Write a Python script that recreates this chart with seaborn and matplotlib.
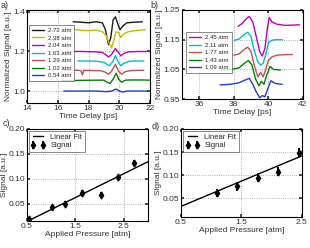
import numpy as np
import pandas as pd
import matplotlib
matplotlib.use("Agg")
import matplotlib.pyplot as plt
import seaborn as sns

# ---- panel a: time traces ----
a_labels = ["2.72 atm", "2.38 atm", "2.04 atm", "1.63 atm", "1.29 atm", "1.02 atm", "0.54 atm"]
a_colors = ["k", "#bfbf00", "#bf00bf", "#00bfbf", "r", "#008000", "#2040c0"]

a_t_272 = [17.0, 17.5, 18.0, 18.5, 18.9, 19.1, 19.3, 19.45, 19.6, 19.75, 19.9, 20.05, 20.25, 20.5, 21.0, 21.5]
a_y_272 = [1.350, 1.348, 1.345, 1.350, 1.345, 1.31, 1.235, 1.27, 1.36, 1.375, 1.34, 1.31, 1.33, 1.345, 1.348, 1.350]
a_t_238 = [16.9, 17.5, 18.0, 18.5, 18.9, 19.15, 19.35, 19.5, 19.65, 19.8, 19.95, 20.1, 20.3, 20.6, 21.0, 21.7]
a_y_238 = [1.310, 1.308, 1.305, 1.308, 1.30, 1.28, 1.24, 1.218, 1.26, 1.30, 1.295, 1.27, 1.29, 1.30, 1.305, 1.31]
a_t_204 = [16.5, 17.5, 18.5, 18.9, 19.1, 19.3, 19.5, 19.75, 19.95, 20.1, 20.3, 20.6, 21.2, 22.0]
a_y_204 = [1.200, 1.200, 1.198, 1.195, 1.185, 1.172, 1.185, 1.215, 1.195, 1.178, 1.19, 1.198, 1.20, 1.200]
a_t_163 = [17.3, 18.0, 18.6, 19.0, 19.2, 19.35, 19.55, 19.75, 19.95, 20.1, 20.3, 20.6, 21.0, 21.6]
a_y_163 = [1.152, 1.152, 1.150, 1.145, 1.135, 1.128, 1.145, 1.178, 1.145, 1.128, 1.14, 1.15, 1.152, 1.152]
a_t_129 = [16.5, 17.3, 17.5, 17.6, 17.7, 18.2, 18.8, 19.1, 19.3, 19.5, 19.75, 19.95, 20.15, 20.4, 20.8, 21.6]
a_y_129 = [1.105, 1.105, 1.103, 1.082, 1.105, 1.104, 1.103, 1.095, 1.085, 1.10, 1.135, 1.10, 1.085, 1.098, 1.104, 1.105]
a_t_102 = [16.3, 17.5, 18.5, 19.0, 19.2, 19.4, 19.6, 19.8, 19.95, 20.15, 20.4, 20.8, 21.5, 22.0]
a_y_102 = [1.052, 1.054, 1.055, 1.055, 1.045, 1.038, 1.06, 1.09, 1.06, 1.045, 1.055, 1.056, 1.056, 1.055]
a_t_054 = [16.4, 17.5, 18.5, 19.2, 19.5, 19.8, 20.0, 20.2, 20.5, 21.0, 22.0]
a_y_054 = [1.000, 1.000, 1.000, 0.997, 1.0, 1.01, 1.0, 0.995, 1.0, 1.0, 1.0]

# ---- panel b: time traces ----
b_labels = ["2.45 atm", "2.11 atm", "1.77 atm", "1.43 atm", "1.09 atm"]
b_colors = ["#bf00bf", "#00bfbf", "r", "#008000", "#2040c0"]

b_t_245 = [38.25, 38.5, 38.75, 38.9, 39.1, 39.3, 39.5, 39.65, 39.8, 39.95, 40.05, 40.2, 40.5, 41.0, 41.8]
b_y_245 = [1.195, 1.205, 1.222, 1.228, 1.21, 1.16, 1.11, 1.095, 1.12, 1.19, 1.225, 1.21, 1.202, 1.198, 1.200]
b_t_211 = [38.05, 38.3, 38.55, 38.8, 39.0, 39.2, 39.4, 39.55, 39.7, 39.85, 40.0, 40.2, 40.4, 40.8]
b_y_211 = [1.148, 1.152, 1.165, 1.175, 1.16, 1.11, 1.075, 1.065, 1.07, 1.10, 1.14, 1.148, 1.15, 1.15]
b_t_177 = [38.0, 38.3, 38.55, 38.8, 39.0, 39.2, 39.4, 39.55, 39.7, 39.85, 40.0, 40.2, 40.5, 41.0, 41.4]
b_y_177 = [1.098, 1.102, 1.115, 1.125, 1.11, 1.06, 1.025, 1.04, 1.025, 1.05, 1.08, 1.092, 1.098, 1.10, 1.10]
b_t_143 = [37.3, 37.8, 38.3, 38.6, 38.85, 39.05, 39.25, 39.45, 39.6, 39.75, 39.9, 40.1, 40.3, 40.7]
b_y_143 = [1.048, 1.05, 1.055, 1.07, 1.08, 1.065, 1.02, 0.995, 1.01, 1.0, 1.03, 1.06, 1.05, 1.048]
b_t_109 = [37.2, 37.8, 38.3, 38.6, 38.9, 39.1, 39.3, 39.5, 39.65, 39.8, 40.0, 40.15, 40.4, 40.8]
b_y_109 = [0.998, 1.0, 1.005, 1.013, 1.02, 1.0, 0.975, 0.955, 0.962, 0.958, 0.99, 1.012, 1.003, 1.0]

# ---- panels c, d: signal vs pressure ----
c_pressure = [0.54, 1.02, 1.29, 1.63, 2.04, 2.38, 2.72]
c_signal = [0.018, 0.043, 0.050, 0.072, 0.068, 0.103, 0.132]
c_err = [0.005] * 7
c_fit_x = [0.5, 3.0]
c_fit_y = [0.014, 0.134]

d_pressure = [1.09, 1.43, 1.77, 2.11, 2.45]
d_signal = [0.062, 0.076, 0.095, 0.108, 0.149]
d_err = [0.009] * 5
d_fit_x = [0.5, 2.5]
d_fit_y = [0.033, 0.142]

sns.set_theme(style="whitegrid", rc={
    "grid.linestyle": ":", "grid.color": "#999999", "grid.linewidth": 0.6,
    "axes.edgecolor": "black", "axes.linewidth": 0.8,
    "xtick.direction": "in", "ytick.direction": "in",
    "xtick.major.size": 2, "ytick.major.size": 2,
    "xtick.top": True, "ytick.right": True,
    "xtick.bottom": True, "ytick.left": True,
})
plt.rcParams["font.family"] = ["Liberation Sans", "DejaVu Sans"]

fig = plt.figure(figsize=(3.1, 2.48), dpi=100)
ax_a = fig.add_axes([0.087, 0.585, 0.397, 0.375])
ax_b = fig.add_axes([0.587, 0.60, 0.39, 0.36])
ax_c = fig.add_axes([0.087, 0.109, 0.39, 0.371])
ax_d = fig.add_axes([0.584, 0.125, 0.39, 0.355])

tick_fs = 6
lab_fs = 6
leg_fs = 4.3


def draw_traces(ax, times, values, labels, colors):
    for t, y, lab, col in zip(times, values, labels, colors):
        df = pd.DataFrame({"t": t, "y": y})
        sns.lineplot(data=df, x="t", y="y", sort=False, estimator=None,
                     color=col, lw=1.0, label=lab, ax=ax)


def trace_legend(ax, anchor):
    ax.legend(loc="upper left", bbox_to_anchor=anchor, borderaxespad=0,
              fontsize=leg_fs, frameon=True, fancybox=False, edgecolor="#555555",
              handlelength=2.1, handletextpad=0.6, labelspacing=0.4,
              borderpad=0.5).get_frame().set_linewidth(0.6)


draw_traces(ax_a,
            [a_t_272, a_t_238, a_t_204, a_t_163, a_t_129, a_t_102, a_t_054],
            [a_y_272, a_y_238, a_y_204, a_y_163, a_y_129, a_y_102, a_y_054],
            a_labels, a_colors)
ax_a.set_xlim(14, 22)
ax_a.set_ylim(0.94, 1.41)
ax_a.set_xticks([14, 16, 18, 20, 22])
ax_a.set_yticks([1.0, 1.2, 1.4])
ax_a.set_xlabel("Time Delay [ps]", fontsize=lab_fs, labelpad=0.5)
ax_a.set_ylabel("Normalized Signal [a.u.]", fontsize=lab_fs)
ax_a.yaxis.set_label_coords(-0.12, 0.5)
trace_legend(ax_a, (0.015, 0.84))

draw_traces(ax_b,
            [b_t_245, b_t_211, b_t_177, b_t_143, b_t_109],
            [b_y_245, b_y_211, b_y_177, b_y_143, b_y_109],
            b_labels, b_colors)
ax_b.set_xlim(35, 42)
ax_b.set_ylim(0.95, 1.25)
ax_b.set_xticks([36, 38, 40, 42])
ax_b.set_yticks([0.95, 1.05, 1.15, 1.25])
ax_b.set_xlabel("Time Delay [ps]", fontsize=lab_fs, labelpad=0.5)
ax_b.set_ylabel("Normalized Signal [a.u.]", fontsize=lab_fs)
ax_b.yaxis.set_label_coords(-0.16, 0.5)
trace_legend(ax_b, (0.033, 0.753))


def draw_fit(ax, px, py, perr, fx, fy):
    sns.lineplot(x=fx, y=fy, color="black", lw=1.0, label="Linear Fit", ax=ax)
    ax.errorbar(px, py, yerr=perr, fmt="d", color="black", ms=3.5,
                elinewidth=1.4, capsize=0, label="Signal")
    leg = ax.legend(loc="upper left", fontsize=5.5, numpoints=2, frameon=True,
                    fancybox=False, edgecolor="#555555", handlelength=1.9,
                    handletextpad=0.6, labelspacing=0.2, borderpad=0.3,
                    borderaxespad=0.25)
    leg.get_frame().set_linewidth(0.6)
    ax.set_xlabel("Applied Pressure [atm]", fontsize=lab_fs, labelpad=0.5)
    ax.set_ylabel("Signal [a.u.]", fontsize=lab_fs)
    ax.yaxis.set_label_coords(-0.16, 0.5)


draw_fit(ax_c, c_pressure, c_signal, c_err, c_fit_x, c_fit_y)
ax_c.set_xlim(0.5, 3.0)
ax_c.set_ylim(0.015, 0.20)
ax_c.set_xticks([0.5, 1.5, 2.5])
ax_c.set_yticks([0.05, 0.10, 0.15, 0.20])

draw_fit(ax_d, d_pressure, d_signal, d_err, d_fit_x, d_fit_y)
ax_d.set_xlim(0.5, 2.5)
ax_d.set_ylim(0.01, 0.20)
ax_d.set_xticks([0.5, 1.5, 2.5])
ax_d.set_yticks([0.05, 0.10, 0.15, 0.20])

for ax in (ax_a, ax_b, ax_c, ax_d):
    ax.tick_params(labelsize=tick_fs, pad=1.5, colors="#333333", labelcolor="#333333")
    ax.xaxis.label.set_color("#333333")
    ax.yaxis.label.set_color("#333333")
    for s in ax.spines.values():
        s.set_color("black")
        s.set_linewidth(0.8)

for txt, x, y in [("a)", 0.002, 0.997), ("b)", 0.486, 0.997),
                  ("c)", 0.008, 0.52), ("d)", 0.49, 0.51)]:
    fig.text(x, y, txt, fontsize=6.5, color="#333333", va="top")

fig.savefig("out.png", dpi=100)
